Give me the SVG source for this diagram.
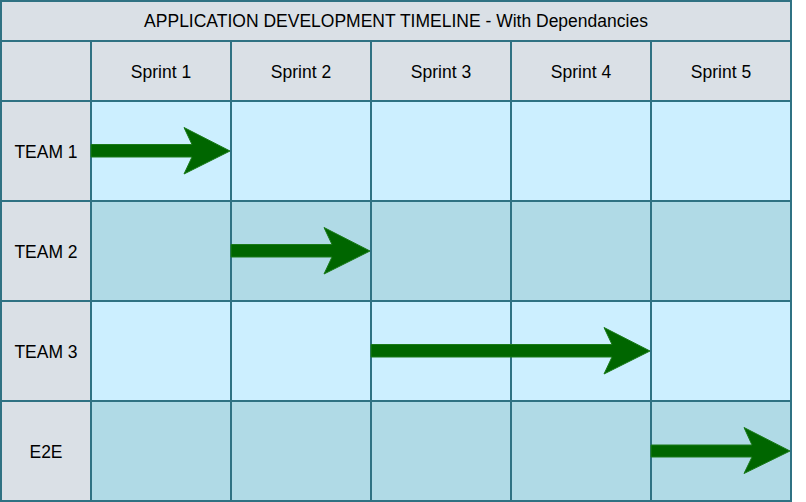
<svg xmlns="http://www.w3.org/2000/svg" width="806" height="502" viewBox="0 0 806 502">
<style>
.g{fill:#dae0e6;stroke:#2f7283;stroke-width:2}
.l{fill:#ccefff;stroke:#2f7283;stroke-width:2}
.d{fill:#b0dae6;stroke:#2f7283;stroke-width:2}
text{font-family:"Liberation Sans",Arial,sans-serif;font-size:17.5px;fill:#000;text-anchor:middle;dominant-baseline:central}
.arr{fill:#006600;stroke:#1a7a1a;stroke-width:1}
</style>
<rect width="806" height="502" fill="#fff"/>
<g id="title"><rect class="g" x="1" y="1" width="790" height="40"/><text x="396" y="21">APPLICATION DEVELOPMENT TIMELINE - With Dependancies</text></g>
<g id="header">
<rect class="g" x="1" y="41" width="90" height="60"/>
<g id="sprint1"><rect class="g" x="91" y="41" width="140" height="60"/><text x="161" y="72">Sprint 1</text></g>
<g id="sprint2"><rect class="g" x="231" y="41" width="140" height="60"/><text x="301" y="72">Sprint 2</text></g>
<g id="sprint3"><rect class="g" x="371" y="41" width="140" height="60"/><text x="441" y="72">Sprint 3</text></g>
<g id="sprint4"><rect class="g" x="511" y="41" width="140" height="60"/><text x="581" y="72">Sprint 4</text></g>
<g id="sprint5"><rect class="g" x="651" y="41" width="140" height="60"/><text x="721" y="72">Sprint 5</text></g>
</g>
<g id="team1">
<rect class="g" x="1" y="101" width="90" height="100"/><text x="46" y="152">TEAM 1</text>
<rect class="l" x="91" y="101" width="140" height="100"/><rect class="l" x="231" y="101" width="140" height="100"/><rect class="l" x="371" y="101" width="140" height="100"/><rect class="l" x="511" y="101" width="140" height="100"/><rect class="l" x="651" y="101" width="140" height="100"/>
</g>
<g id="team2">
<rect class="g" x="1" y="201" width="90" height="100"/><text x="46" y="252">TEAM 2</text>
<rect class="d" x="91" y="201" width="140" height="100"/><rect class="d" x="231" y="201" width="140" height="100"/><rect class="d" x="371" y="201" width="140" height="100"/><rect class="d" x="511" y="201" width="140" height="100"/><rect class="d" x="651" y="201" width="140" height="100"/>
</g>
<g id="team3">
<rect class="g" x="1" y="301" width="90" height="100"/><text x="46" y="352">TEAM 3</text>
<rect class="l" x="91" y="301" width="140" height="100"/><rect class="l" x="231" y="301" width="140" height="100"/><rect class="l" x="371" y="301" width="140" height="100"/><rect class="l" x="511" y="301" width="140" height="100"/><rect class="l" x="651" y="301" width="140" height="100"/>
</g>
<g id="e2e">
<rect class="g" x="1" y="401" width="90" height="100"/><text x="46" y="452">E2E</text>
<rect class="d" x="91" y="401" width="140" height="100"/><rect class="d" x="231" y="401" width="140" height="100"/><rect class="d" x="371" y="401" width="140" height="100"/><rect class="d" x="511" y="401" width="140" height="100"/><rect class="d" x="651" y="401" width="140" height="100"/>
</g>
<g id="connectors">
<path class="arr" d="M91,144.5 H192 L184,127.5 L230,151 L184,174 L192,157 H91 Z"/>
<path class="arr" d="M231,244.5 H332 L324,227.5 L370,251 L324,274 L332,257 H231 Z"/>
<path class="arr" d="M371,344.5 H612 L604,327.5 L650,351 L604,374 L612,357 H371 Z"/>
<path class="arr" d="M651,445 H752 L744,427.5 L790,451 L744,473.5 L752,457 H651 Z"/>
</g>
</svg>
